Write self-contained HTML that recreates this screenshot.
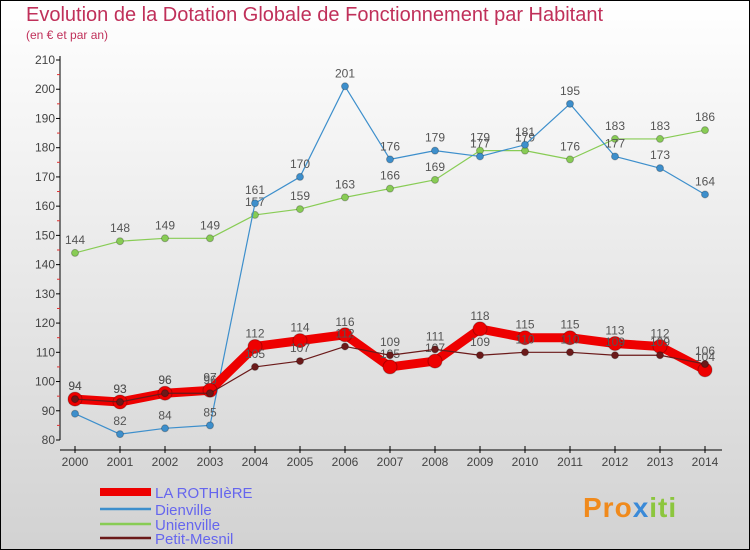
<!DOCTYPE html>
<html><head><meta charset="utf-8"><style>
body{margin:0;}
#wrap{width:750px;height:550px;position:relative;overflow:hidden;font-family:"Liberation Sans",sans-serif;}
svg{position:absolute;left:0;top:0;}
</style></head><body>
<div id="wrap">
<svg id="chart" width="750" height="550">
<defs><linearGradient id="bg" x1="0" y1="0" x2="0" y2="1"><stop offset="0" stop-color="#ffffff"/><stop offset="1" stop-color="#d2d2d2"/></linearGradient></defs>
<rect x="0.5" y="0.5" width="749" height="549" fill="url(#bg)" stroke="#000"/>
<text x="26" y="21" font-size="20" fill="#c0305a">Evolution de la Dotation Globale de Fonctionnement par Habitant</text>
<text x="26" y="39" font-size="12" fill="#c0305a">(en € et par an)</text>
<g id="axes"></g><g id="series"></g><g id="legend"></g>
<g>
<text x="583" y="517" font-size="28" font-weight="bold" fill="#f08a1c" letter-spacing="1">Pro<tspan fill="#3a8ad8">x</tspan><tspan fill="#8cc63e">iti</tspan></text>
</g>
</svg>
</div>
<script>
const years=[2000,2001,2002,2003,2004,2005,2006,2007,2008,2009,2010,2011,2012,2013,2014];
const rothiere=[94,93,96,97,112,114,116,105,107,118,115,115,113,112,104];
const dienville=[89,82,84,85,161,170,201,176,179,177,181,195,177,173,164];
const unienville=[144,148,149,149,157,159,163,166,169,179,179,176,183,183,186];
const petitMesnil=[94,93,96,96,105,107,112,109,111,109,110,110,109,109,106];
const yTicks=[80,90,100,110,120,130,140,150,160,170,180,190,200,210];
const NS="http://www.w3.org/2000/svg";
const xs=i=>75+i*45;
const ys=v=>440-(v-80)*380/130;
function mk(tag,attrs,parent){const e=document.createElementNS(NS,tag);for(const k in attrs)e.setAttribute(k,attrs[k]);parent.appendChild(e);return e;}
const axes=document.getElementById('axes');
let a=mk('line',{x1:60,y1:56,x2:60,y2:440,stroke:'#000'},axes);


a=mk('line',{x1:60,y1:450,x2:722,y2:450,stroke:'#000'},axes);


yTicks.forEach(t=>{
  const y=ys(t);
  mk('line',{x1:56,y1:y,x2:60,y2:y,stroke:'#000'},axes);
  if(t<210) mk('line',{x1:57,y1:y-380/26,x2:60,y2:y-380/26,stroke:'#e03030'},axes);
  const tx=mk('text',{x:55,y:y+4,'font-size':12,fill:'#444','text-anchor':'end'},axes);
  tx.textContent=t;
  
  
});
years.forEach((yr,i)=>{
  const x=xs(i);
  mk('line',{x1:x,y1:446,x2:x,y2:453,stroke:'#000'},axes);
  const tx=mk('text',{x:x,y:466,'font-size':12,fill:'#444','text-anchor':'middle'},axes);
  tx.textContent=yr;
  
  
});
const series=[
 {name:'unienville',data:unienville,color:'#88cc55',w:1.2,r:3.5,label:'Unienville'},
 {name:'dienville',data:dienville,color:'#3d8fcc',w:1.2,r:3.5,label:'Dienville'},
 {name:'la-rothiere',data:rothiere,color:'#ee0000',w:9,r:7,label:'LA ROTHIèRE'},
 {name:'petit-mesnil',data:petitMesnil,color:'#6b1a1a',w:1.2,r:3.5,label:'Petit-Mesnil'}
];
const sg=document.getElementById('series');
series.forEach(s=>{
  const g=mk('g',{},sg);
  
  
  const pl=mk('polyline',{points:s.data.map((v,i)=>xs(i)+','+ys(v)).join(' '),fill:'none',stroke:s.color,'stroke-width':s.w,'stroke-linejoin':'round'},g);
  
  
  s.data.forEach((v,i)=>{
    const c=mk('circle',{cx:xs(i),cy:ys(v),r:s.r,fill:s.color,stroke:'rgba(0,0,0,0.25)'},g);
    
    
    const t=mk('text',{x:xs(i),y:ys(v)-9,'font-size':12,fill:'#555','text-anchor':'middle'},g);
    t.textContent=v;
    
    
  });
});
const lg=document.getElementById('legend');
const legendOrder=[series[2],series[1],series[0],series[3]];
const legendY=[492,509,524,538];
legendOrder.forEach((s,i)=>{
  const g=mk('g',{},lg);
  
  
  mk('line',{x1:100,y1:legendY[i],x2:151,y2:legendY[i],stroke:s.color,'stroke-width':i==0?8:2.5},g);
  const t=mk('text',{x:155,y:legendY[i]+6,'font-size':15,fill:'#6666ee'},g);
  t.textContent=s.label;
});
</script>
</body></html>
